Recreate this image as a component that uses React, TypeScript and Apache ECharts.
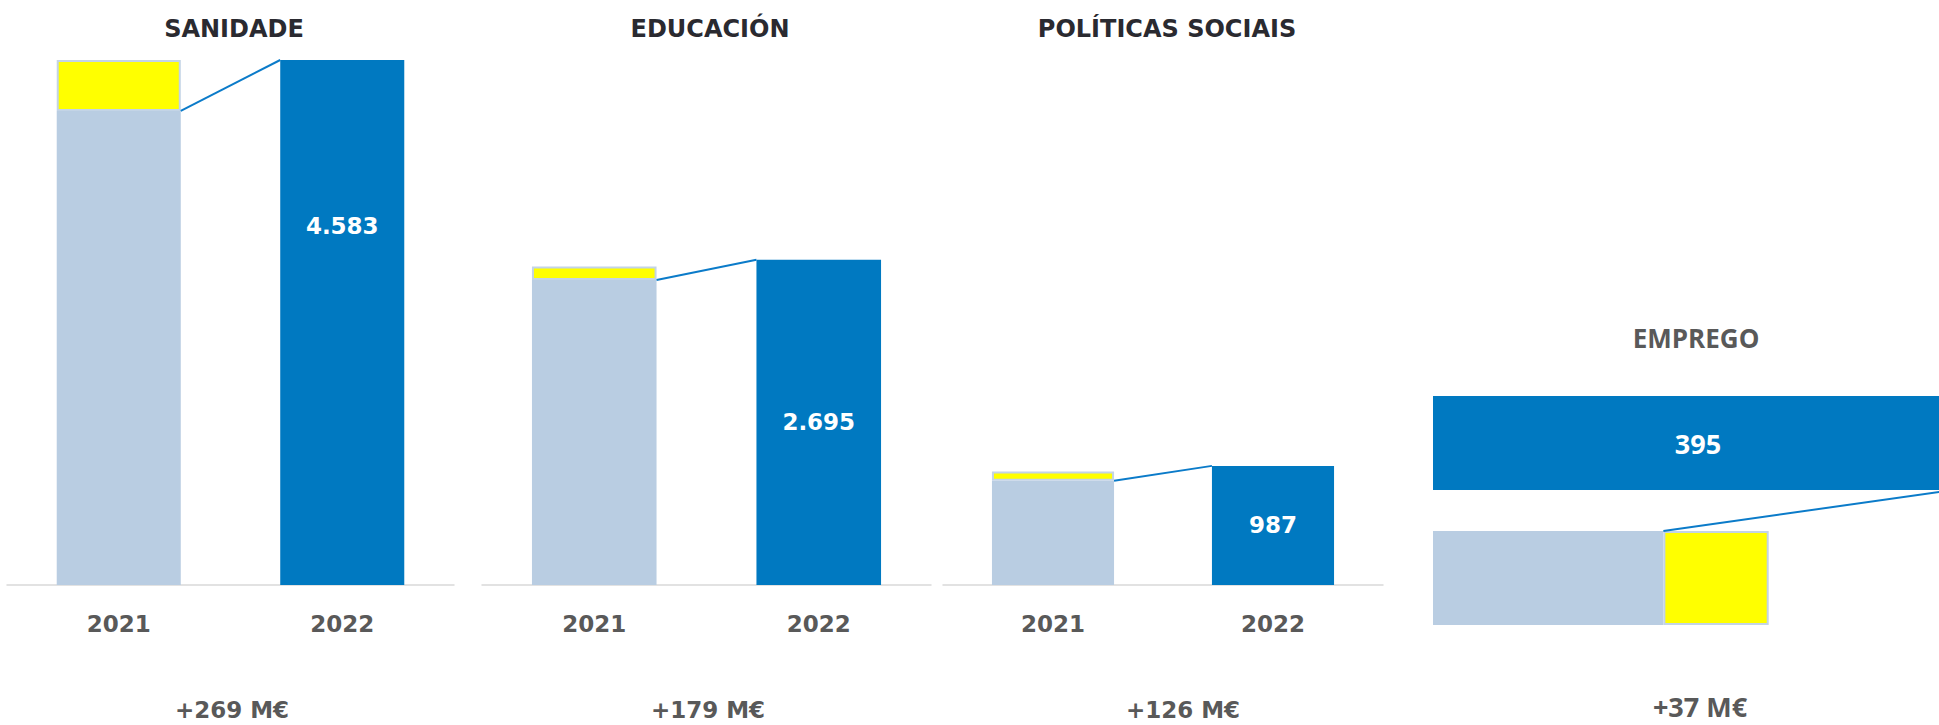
import React, { useEffect, useRef } from "react";
import * as echarts from "echarts";

const panels = ["SANIDADE", "EDUCACIÓN", "POLÍTICAS SOCIAIS", "EMPREGO"];
const years = ["2021", "2022"];
const base2021 = [4138, 2527, 864, 175];
const extra2021 = [445, 112, 77, 80];
const value2022 = [4583, 2695, 987, 395];
const increments = ["+269 M€", "+179 M€", "+126 M€", "+37 M€"];
const axisMax = [4583, 4350, 4350, 395];

const LIGHT = "#B9CDE2";
const DARK = "#0079C1";
const YELLOW = "#FFFF00";
const LINE = "#0B7BC9";
const GREY = "#595959";
const FONT = "DejaVu Sans";
const FONT_E = "Open Sans";

const fmt = (v: number) => String(v).replace(/\B(?=(\d{3})+(?!\d))/g, ".");

const vGrids = [
  { left: 7, width: 447, top: 60, height: 525 },
  { left: 482, width: 449, top: 60, height: 525 },
  { left: 943, width: 440, top: 60, height: 525 },
];
const hGrid = { left: 1433, width: 520, top: 375.5, height: 270 };

const titlePos = [
  [234, 29],
  [710, 29],
  [1167, 29],
  [1696, 338],
];
const incPos = [
  [232, 710],
  [708, 710],
  [1183, 710],
  [1700, 706],
];

export default function App() {
  const ref = useRef<HTMLDivElement>(null);
  useEffect(() => {
    if (!ref.current) return;
    const chart = echarts.init(ref.current, null, { renderer: "svg" });
    const VR = 0.555;
    const HR = 0.696;

    const xAxis: any[] = [];
    const yAxis: any[] = [];
    const series: any[] = [];

    for (let i = 0; i < 3; i++) {
      xAxis.push({
        type: "category",
        gridIndex: i,
        data: years,
        axisLine: { show: true, lineStyle: { color: "#D9D9D9", width: 1.5 } },
        axisTick: { show: false },
        axisLabel: {
          fontFamily: FONT,
          fontWeight: "bold",
          fontSize: 23,
          color: GREY,
          margin: 27,
        },
      });
      yAxis.push({ type: "value", gridIndex: i, min: 0, max: axisMax[i], show: false });
      const stack = "p" + i;
      series.push({
        type: "bar",
        xAxisIndex: i,
        yAxisIndex: i,
        stack,
        barWidth: VR * 100 + "%",
        data: [base2021[i], "-"],
        itemStyle: { color: LIGHT },
      });
      series.push({
        type: "bar",
        xAxisIndex: i,
        yAxisIndex: i,
        stack,
        barWidth: VR * 100 + "%",
        data: [extra2021[i], "-"],
        itemStyle: { color: YELLOW, borderColor: "#C3D4E6", borderWidth: 2 },
      });
      series.push({
        type: "bar",
        xAxisIndex: i,
        yAxisIndex: i,
        stack,
        barWidth: VR * 100 + "%",
        data: ["-", value2022[i]],
        itemStyle: { color: DARK },
        label: {
          show: true,
          position: i === 0 ? ["50%", 166] : "inside",
          align: "center",
          verticalAlign: "middle",
          formatter: (p: any) => fmt(p.value),
          color: "#FFFFFF",
          fontFamily: FONT,
          fontWeight: "bold",
          fontSize: 23,
        },
      });
      series.push({
        type: "custom",
        xAxisIndex: i,
        yAxisIndex: i,
        encode: { x: 0, y: 1 },
        data: [[0, base2021[i], 1, value2022[i]]],
        z: 5,
        renderItem: (params: any, api: any) => {
          const p1 = api.coord([0, api.value(1)]);
          const p2 = api.coord([1, api.value(3)]);
          const half = (api.size([1, 0])[0] * VR) / 2;
          return {
            type: "line",
            shape: { x1: p1[0] + half, y1: p1[1], x2: p2[0] - half, y2: p2[1] },
            style: { stroke: LINE, lineWidth: 2 },
          };
        },
      });
    }

    // EMPREGO horizontal panel
    xAxis.push({ type: "value", gridIndex: 3, min: 0, max: axisMax[3], show: false });
    yAxis.push({ type: "category", gridIndex: 3, data: years, show: false });
    series.push({
      type: "bar",
      xAxisIndex: 3,
      yAxisIndex: 3,
      stack: "p3",
      barWidth: HR * 100 + "%",
      data: [base2021[3], "-"],
      itemStyle: { color: LIGHT },
    });
    series.push({
      type: "bar",
      xAxisIndex: 3,
      yAxisIndex: 3,
      stack: "p3",
      barWidth: HR * 100 + "%",
      data: [extra2021[3], "-"],
      itemStyle: { color: YELLOW, borderColor: "#C3D4E6", borderWidth: 2 },
    });
    series.push({
      type: "bar",
      xAxisIndex: 3,
      yAxisIndex: 3,
      stack: "p3",
      barWidth: HR * 100 + "%",
      data: ["-", value2022[3]],
      itemStyle: { color: DARK },
      label: {
        show: true,
        position: "inside",
        offset: [5, 0],
        formatter: (p: any) => fmt(p.value),
        color: "#FFFFFF",
        fontFamily: FONT_E,
        fontWeight: "bold",
        fontSize: 27,
      },
    });
    series.push({
      type: "custom",
      xAxisIndex: 3,
      yAxisIndex: 3,
      encode: { x: 0, y: 1 },
      data: [[base2021[3], 0, value2022[3], 1]],
      z: 5,
      renderItem: (params: any, api: any) => {
        const p1 = api.coord([api.value(0), 0]);
        const p2 = api.coord([api.value(2), 1]);
        const half = (api.size([0, 1])[1] * HR) / 2;
        return {
          type: "line",
          shape: { x1: p1[0], y1: p1[1] - half, x2: p2[0], y2: p2[1] + half },
          style: { stroke: LINE, lineWidth: 2 },
        };
      },
    });

    const graphics: any[] = [];
    panels.forEach((name, i) => {
      const isE = i === 3;
      graphics.push({
        type: "text",
        x: titlePos[i][0],
        y: titlePos[i][1],
        style: {
          text: name,
          align: "center",
          verticalAlign: "middle",
          fontFamily: isE ? FONT_E : FONT,
          fontWeight: "bold",
          fontSize: isE ? 26 : 24,
          fill: isE ? GREY : "#2A2A30",
        },
      });
      graphics.push({
        type: "text",
        x: incPos[i][0],
        y: incPos[i][1],
        style: {
          text: increments[i],
          align: "center",
          verticalAlign: "middle",
          fontFamily: isE ? FONT_E : FONT,
          fontWeight: "bold",
          fontSize: isE ? 27 : 23,
          fill: GREY,
        },
      });
    });

    chart.setOption({
      animation: false,
      backgroundColor: "#FFFFFF",
      grid: [...vGrids, hGrid],
      xAxis,
      yAxis,
      series,
      graphic: graphics,
    });
    return () => chart.dispose();
  }, []);

  return (
    <div
      style={{
        position: "fixed",
        left: 0,
        top: 0,
        width: 1939,
        height: 725,
        overflow: "hidden",
        background: "#fff",
      }}
    >
      <div ref={ref} style={{ width: 1960, height: 725 }} />
    </div>
  );
}
